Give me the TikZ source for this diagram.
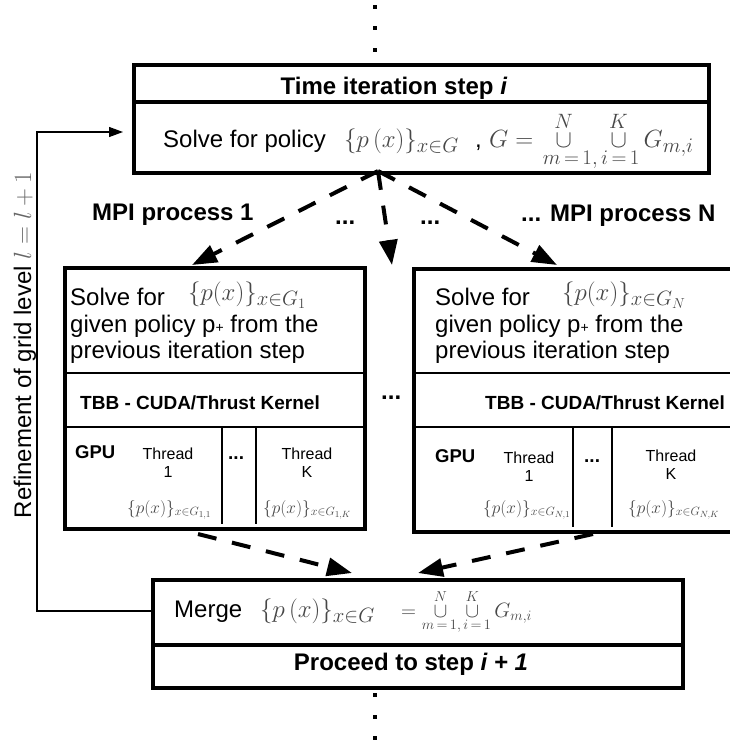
\documentclass[tikz,border=0pt]{standalone}
\usepackage{amsmath}
\usepackage[no-math]{fontspec}
\setmainfont{Liberation Sans}
\usetikzlibrary{arrows.meta}

\tikzset{
  box/.style={draw, line width=3.5pt, inner sep=0pt, anchor=north west},
  thinrule/.style={line width=1.2pt},
  thickrule/.style={line width=3.5pt},
  flow/.style={line width=4pt, dash pattern=on 19pt off 16pt,
    -{Triangle[length=25pt,width=18pt]}},
  feedback/.style={line width=1.2pt, -{Triangle[length=14pt,width=10pt]}},
  txt/.style={inner sep=0pt, anchor=base west, font=\fontsize{24}{27}\selectfont},
  hdr/.style={inner sep=0pt, anchor=base, font=\bfseries\fontsize{24}{27}\selectfont},
  lbl/.style={inner sep=0pt, anchor=base west, font=\bfseries\fontsize{24}{27}\selectfont},
  kern/.style={inner sep=0pt, anchor=base west, font=\bfseries\fontsize{19}{22}\selectfont},
  gpu/.style={inner sep=0pt, anchor=base west, font=\bfseries\fontsize{18.5}{22}\selectfont},
  thr/.style={inner sep=0pt, anchor=base, font=\fontsize{16}{18}\selectfont},
  mth/.style={inner sep=0pt, anchor=base west, text=black!72},
  dotsq/.style={fill=black},
}

% wide subscript used in the per-process sets
\newcommand{\widesub}[1]{\mbox{\fontsize{22}{22}\selectfont$#1$}}

\begin{document}
\begin{tikzpicture}[x=1pt, y=-1pt]
\useasboundingbox (0,0) rectangle (730,745);

% continuation dots above and below
\foreach \yy in {7,28,50,695,717,738}
  \fill[dotsq] (373.2,\yy-1.8) rectangle (376.8,\yy+1.8);

% ---------- time iteration box ----------
\node[box, minimum width=575pt, minimum height=108pt] (topbox) at (132,63) {};
\draw[thickrule] (132,102) -- (707,102);
\node[hdr] (toptitle) at (394,94) {Time iteration step \textit{i}};
\node[txt] (topsolve) at (163,147) {Solve for policy};
\node[mth, font=\fontsize{28}{28}\selectfont] (topset) at (344,147)
  {$\{p\,(x)\}_{x\in G}$};
\node[txt] (topcomma) at (475,147) {,};
\node[mth, font=\fontsize{28}{28}\selectfont] (topunion) at (489,147)
  {$G=\mkern2mu\underset{m\,=\,1,\,i\,=\,1}{\overset{N}{\cup}\hskip1.3em\overset{K}{\cup}}\,G_{m,i}$};

% ---------- process labels ----------
\node[lbl] (mpi1) at (92,220) {MPI process 1};
\node[lbl] (gapa) at (335,224) {...};
\node[lbl] (gapb) at (420,224) {...};
\node[lbl] (mpin) at (521,221) {... MPI process N};

% ---------- left process box ----------
\node[box, minimum width=300pt, minimum height=261pt] (leftbox) at (63,266) {};
\draw[thinrule] (63,373) -- (363,373);
\draw[thinrule] (63,427) -- (363,427);
\draw[thinrule] (222,427) -- (222,524);
\draw[thinrule] (256,427) -- (256,524);
\node[txt] (lsolve) at (70,305) {Solve for};
\node[mth, font=\fontsize{24}{24}\selectfont] (lset) at (188,300)
  {$\{p(x)\}_{\widesub{x{\in}G_1}}$};
\node[txt] (lgiven) at (70,332) {given policy p{\fontsize{14}{14}\selectfont +} from the};
\node[txt] (lprev) at (70,358) {previous iteration step};
\node[kern] (lkern) at (80,409) {TBB - CUDA/Thrust Kernel};
\node[gpu] (lgpu) at (75,458) {GPU};
\node[thr] (lthra) at (168,459) {Thread};
\node[thr] (lthrb) at (168,477) {1};
\node[kern] (ldots) at (228,459) {...};
\node[thr] (lthrc) at (307,459) {Thread};
\node[thr] (lthrd) at (307,477) {K};
\node[mth, font=\fontsize{18}{18}\selectfont] (lsetA) at (127,513)
  {$\{p(x)\}_{x\in G_{1,1}}$};
\node[mth, font=\fontsize{18}{18}\selectfont] (lsetK) at (263,513)
  {$\{p(x)\}_{x\in G_{1,K}}$};

% dots between the process boxes
\node[lbl] (middots) at (381,399) {...};

% ---------- right process box ----------
\node[box, minimum width=323pt, minimum height=263pt] (rightbox) at (412,267) {};
\draw[thinrule] (412,373) -- (735,373);
\draw[thinrule] (412,427) -- (735,427);
\draw[thinrule] (573,427) -- (573,527);
\draw[thinrule] (612,427) -- (612,527);
\node[txt] (rsolve) at (435,305) {Solve for};
\node[mth, font=\fontsize{24}{24}\selectfont] (rset) at (562,300)
  {$\{p(x)\}_{\widesub{x{\in}G_N}}$};
\node[txt] (rgiven) at (435,332) {given policy p{\fontsize{14}{14}\selectfont +} from the};
\node[txt] (rprev) at (435,358) {previous iteration step};
\node[kern] (rkern) at (485,409) {TBB - CUDA/Thrust Kernel};
\node[gpu] (rgpu) at (435,462) {GPU};
\node[thr] (rthra) at (529,463) {Thread};
\node[thr] (rthrb) at (529,481) {1};
\node[kern] (rdots) at (584,462) {...};
\node[thr] (rthrc) at (671,461) {Thread};
\node[thr] (rthrd) at (671,479) {K};
\node[mth, font=\fontsize{18}{18}\selectfont] (rsetA) at (483,513)
  {$\{p(x)\}_{x\in G_{N,1}}$};
\node[mth, font=\fontsize{18}{18}\selectfont] (rsetK) at (628,513)
  {$\{p(x)\}_{x\in G_{N,K}}$};

% ---------- merge box ----------
\node[box, minimum width=530pt, minimum height=108pt] (mergebox) at (151,578) {};
\draw[thickrule] (151,645) -- (681,645);
\node[txt] (mergeword) at (174,617) {Merge};
\node[mth, font=\fontsize{28}{28}\selectfont] (mergeset) at (260,617)
  {$\{p\,(x)\}_{x\in G}$};
\node[mth, font=\fontsize{20}{20}\selectfont] (mergeunion) at (401,617)
  {$=\underset{m\,=\,1,\,i\,=\,1}{\overset{N}{\cup}\hskip0.9em\overset{K}{\cup}}\,G_{m,i}$};
\node[hdr] (proceed) at (411,670) {Proceed to step \textit{i + 1}};

% ---------- grid refinement loop ----------
\node[txt, anchor=base, rotate=90] (refine) at (31,345)
  {Refinement of grid level \textcolor{black!60}{$l=l+1$}};

% connector end points
\coordinate (fanout) at (378,171);
\coordinate (tipL) at (192,265);
\coordinate (tipM) at (392,265);
\coordinate (tipR) at (557,265);
\coordinate (fromL) at (198,534);
\coordinate (fromR) at (593,534);
\coordinate (intoL) at (352,573);
\coordinate (intoR) at (418,573);
\coordinate (mergeout) at (151,611);
\coordinate (bend) at (37,611);
\coordinate (topin) at (130,132);

\draw[flow] (fanout) -- (tipL);
\draw[flow] (fanout) -- (tipM);
\draw[flow] (fanout) -- (tipR);
\draw[flow] (fromL) -- (intoL);
\draw[flow] (fromR) -- (intoR);
\draw[feedback, shorten >=7pt] (mergeout) -- (bend) |- (topin);
\end{tikzpicture}
\end{document}
